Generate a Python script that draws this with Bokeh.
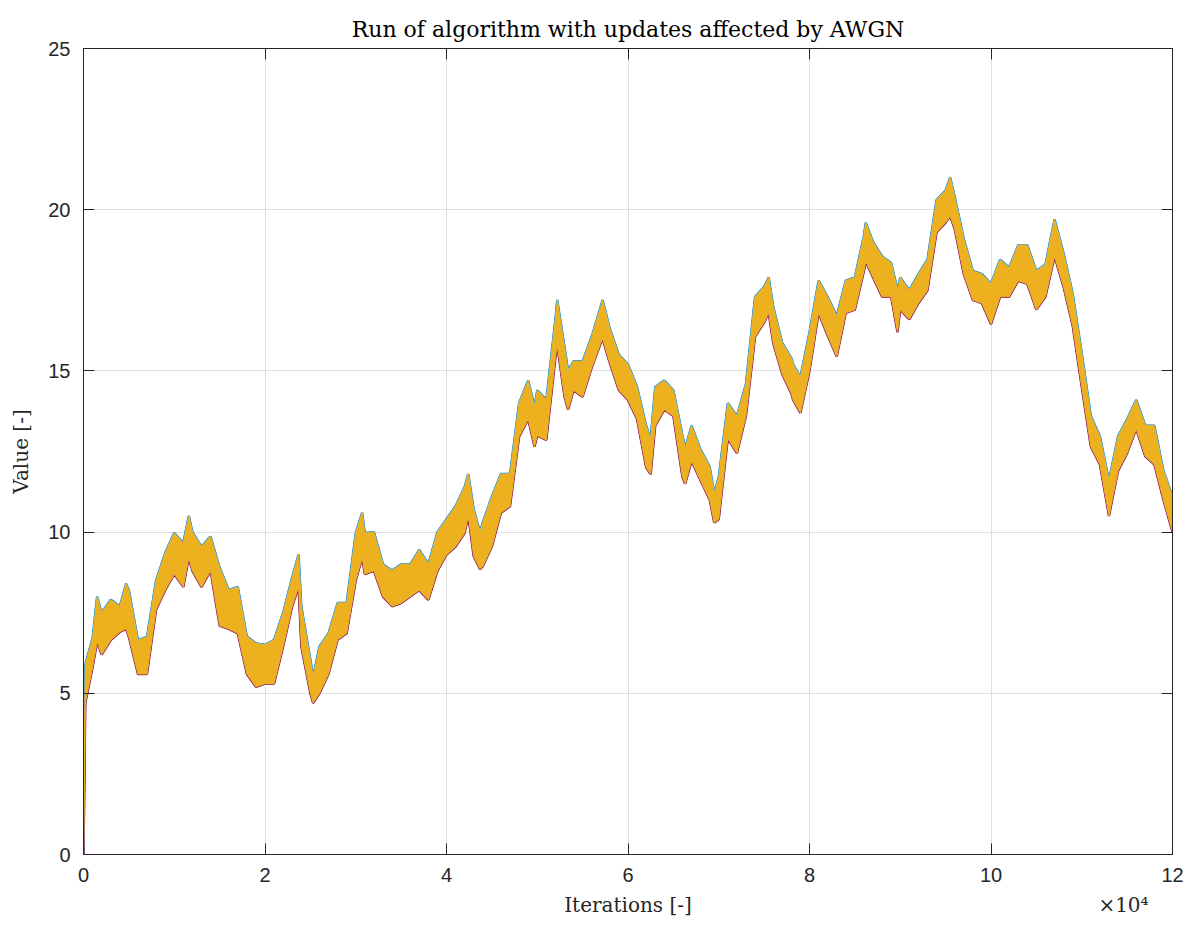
from bokeh.plotting import figure
from bokeh.models import Range1d, LinearAxis, FixedTicker
from bokeh.embed import file_html
from bokeh.resources import INLINE

# ---- data (band envelope of the overlapping runs) ----
iters = [0, 200, 1000, 1500, 2000, 3000, 4000, 4700, 5000, 6000,
         7000, 8000, 9000, 10000, 11000, 11600, 12000, 13000, 14000, 15000,
         16000, 17000, 18000, 19000, 20000, 21000, 22000, 23000, 23700, 24000,
         25000, 25300, 26000, 27000, 28000, 29000, 30000, 30700, 31000, 32000,
         33000, 34000, 35000, 36000, 37000, 38000, 39000, 40000, 41000, 42000,
         42400, 43000, 43700, 44000, 45000, 46000, 47000, 48000, 49000, 49700,
         50000, 51000, 52000, 52200, 53000, 53400, 54000, 55000, 56000, 57000,
         57200, 58000, 59000, 60000, 61000, 62000, 62500, 63000, 64000, 65000,
         66000, 66300, 67000, 68000, 69000, 69500, 70000, 71000, 72000, 73000,
         74000, 75000, 75500, 76000, 77000, 78000, 78200, 79000, 80000, 81000,
         82000, 83000, 84000, 85000, 86000, 86200, 87000, 88000, 89000, 89700,
         90000, 91000, 92000, 93000, 94000, 95000, 95500, 96000, 97000, 98000,
         99000, 100000, 101000, 102000, 103000, 104000, 105000, 106000, 107000, 108000,
         109000, 110000, 111000, 112000, 113000, 114000, 115000, 116000, 117000, 118000,
         119000, 120000]
upper = [0.0, 5.9, 6.7, 8.0, 7.5, 7.9, 7.7, 8.4, 8.2, 6.65,
         6.75, 8.5, 9.35, 9.97, 9.66, 10.5, 10.0, 9.55, 9.86, 8.9,
         8.2, 8.3, 6.76, 6.55, 6.5, 6.66, 7.5, 8.6, 9.3, 7.7,
         6.04, 5.5, 6.45, 6.86, 7.8, 7.8, 9.97, 10.6, 9.97, 10.0,
         9.0, 8.8, 9.0, 9.0, 9.45, 9.0, 10.0, 10.4, 10.8, 11.4,
         11.8, 10.7, 10.0, 10.3, 11.1, 11.8, 11.8, 14.0, 14.7, 13.9,
         14.4, 14.1, 16.6, 17.2, 15.75, 15.0, 15.3, 15.3, 16.06, 17.0,
         17.2, 16.3, 15.5, 15.2, 14.5, 13.3, 12.9, 14.5, 14.7, 14.4,
         13.0, 12.6, 13.3, 12.55, 12.03, 11.2, 11.7, 14.0, 13.6, 14.6,
         17.3, 17.6, 17.9, 17.0, 15.86, 15.4, 15.2, 14.8, 16.2, 17.8,
         17.3, 16.7, 17.8, 17.9, 19.2, 19.6, 19.0, 18.55, 18.35, 17.5,
         17.9, 17.5, 18.0, 18.45, 20.3, 20.6, 21.0, 20.4, 19.1, 18.1,
         18.0, 17.7, 18.45, 18.2, 18.9, 18.9, 18.1, 18.3, 19.7, 18.65,
         17.4, 15.55, 13.6, 12.97, 11.6, 12.97, 13.5, 14.1, 13.3, 13.3,
         11.9, 11.1]
lower = [0.0, 4.7, 5.8, 6.6, 6.2, 6.65, 6.9, 7.0, 6.75, 5.6,
         5.6, 7.6, 8.2, 8.7, 8.3, 9.2, 8.8, 8.3, 8.8, 7.1,
         7.0, 6.86, 5.6, 5.2, 5.3, 5.3, 6.45, 7.7, 8.3, 6.45,
         5.0, 4.7, 5.0, 5.6, 6.66, 6.86, 8.5, 9.2, 8.7, 8.8,
         8.0, 7.7, 7.8, 8.0, 8.2, 7.9, 8.8, 9.3, 9.55, 9.97,
         10.5, 9.25, 8.85, 8.94, 9.55, 10.6, 10.8, 12.96, 13.5, 12.65,
         13.0, 12.86, 15.4, 15.8, 14.2, 13.8, 14.4, 14.2, 15.1, 15.86,
         16.0, 15.24, 14.4, 14.1, 13.5, 12.0, 11.8, 13.3, 13.8, 13.6,
         11.7, 11.5, 12.2, 11.6, 11.0, 10.3, 10.4, 12.9, 12.45, 13.6,
         16.06, 16.5, 16.8, 15.86, 14.9, 14.3, 14.1, 13.7, 15.0, 16.8,
         16.1, 15.45, 16.8, 16.9, 18.1, 18.4, 17.9, 17.3, 17.3, 16.2,
         16.9, 16.6, 17.1, 17.5, 19.3, 19.6, 19.8, 19.4, 18.0, 17.2,
         17.1, 16.45, 17.3, 17.3, 17.8, 17.7, 16.9, 17.3, 18.55, 17.6,
         16.4, 14.5, 12.65, 12.1, 10.5, 11.9, 12.45, 13.2, 12.35, 12.1,
         11.0, 10.0]

x_ticks = [0, 20000, 40000, 60000, 80000, 100000, 120000]
x_tick_labels = ["0", "2", "4", "6", "8", "10", "12"]
y_ticks = [0, 5, 10, 15, 20, 25]
x_label = "Iterations [-]"
x_exponent = "×10⁴"
y_label = "Value [-]"
title = "Run of algorithm with updates affected by AWGN"

colors = ["#0072BD", "#D95319", "#EDB120", "#7E2F8E", "#77AC30", "#4DBEEE", "#A2142F"]

TICK_FONT = "Liberation Sans"
SERIF = "DejaVu Serif"
AX = "#262626"

p = figure(width=1185, height=925, output_backend="svg", toolbar_location=None,
           x_range=Range1d(0, 120000), y_range=Range1d(0, 25),
           min_border_left=83, min_border_right=13, min_border_top=48, min_border_bottom=71)

p.title.text = title
p.title.text_font = SERIF
p.title.text_font_style = "normal"
p.title.text_font_size = "22px"
p.title.align = "center"
p.title.text_color = "#000000"
p.title.offset = 0
p.title.standoff = 13

p.background_fill_color = "white"
p.border_fill_color = "white"
p.outline_line_color = AX
p.outline_line_width = 1

# grid
p.xgrid.ticker = FixedTicker(ticks=x_ticks)
p.ygrid.ticker = FixedTicker(ticks=y_ticks)
for g in (p.xgrid, p.ygrid):
    g.grid_line_color = "#dfdfdf"
    g.grid_line_width = 1

# colored runs peeking out at the band edges
p.line(iters, upper, line_color=colors[0], line_width=2.4)
p.line(iters, lower, line_color=colors[6], line_width=2.4)
p.line(iters, upper, line_color=colors[5], line_width=1.6)
p.line(iters, lower, line_color=colors[3], line_width=1.6)
# dominant (top-most) run drawn as the yellow band
p.varea(x=iters, y1=lower, y2=upper, fill_color=colors[2], fill_alpha=1.0)
p.line(iters, upper, line_color=colors[2], line_width=1)
p.line(iters, lower, line_color=colors[2], line_width=1)

# main axes
xa = p.xaxis[0]
xa.ticker = FixedTicker(ticks=x_ticks)
xa.major_label_overrides = {t: l for t, l in zip(x_ticks, x_tick_labels)}
ya = p.yaxis[0]
ya.ticker = FixedTicker(ticks=y_ticks)
ya.axis_label = y_label

for ax in (xa, ya):
    ax.major_tick_in = 11
    ax.major_tick_out = 0
    ax.minor_tick_in = 0
    ax.minor_tick_out = 0
    ax.axis_line_color = AX
    ax.major_tick_line_color = AX
    ax.major_label_text_font = TICK_FONT
    ax.major_label_text_font_size = "20px"
    ax.major_label_text_color = "#262626"
    ax.axis_label_text_font = SERIF
    ax.axis_label_text_font_size = "20px"
    ax.axis_label_text_font_style = "normal"
    ax.axis_label_text_color = "#262626"
xa.major_label_standoff = 13
ya.major_label_standoff = 13
ya.axis_label_standoff = 12

# second row under the x axis: axis title (centered) and the x10^4 exponent (right)
x_row_pos = [60000, 114600]
xa2 = LinearAxis(ticker=FixedTicker(ticks=x_row_pos))
xa2.major_label_overrides = {x_row_pos[0]: x_label, x_row_pos[1]: x_exponent}
xa2.axis_line_color = None
xa2.major_tick_line_color = None
xa2.minor_tick_line_color = None
xa2.major_tick_in = 0
xa2.major_tick_out = 0
xa2.major_label_standoff = 8
xa2.major_label_text_font = SERIF
xa2.major_label_text_font_size = "20px"
xa2.major_label_text_color = "#262626"
p.add_layout(xa2, "below")

# mirrored ticks on top and right (box on)
top = LinearAxis(ticker=FixedTicker(ticks=x_ticks))
top.major_label_overrides = {t: "" for t in x_ticks}
right = LinearAxis(ticker=FixedTicker(ticks=y_ticks))
right.major_label_overrides = {t: "" for t in y_ticks}
for ax in (top, right):
    ax.major_tick_in = 11
    ax.major_tick_out = 0
    ax.minor_tick_in = 0
    ax.minor_tick_out = 0
    ax.axis_line_color = AX
    ax.major_tick_line_color = AX
    ax.major_label_standoff = 0
p.add_layout(top, "above")
p.add_layout(right, "right")

open("out.html", "w").write(file_html(p, INLINE))
